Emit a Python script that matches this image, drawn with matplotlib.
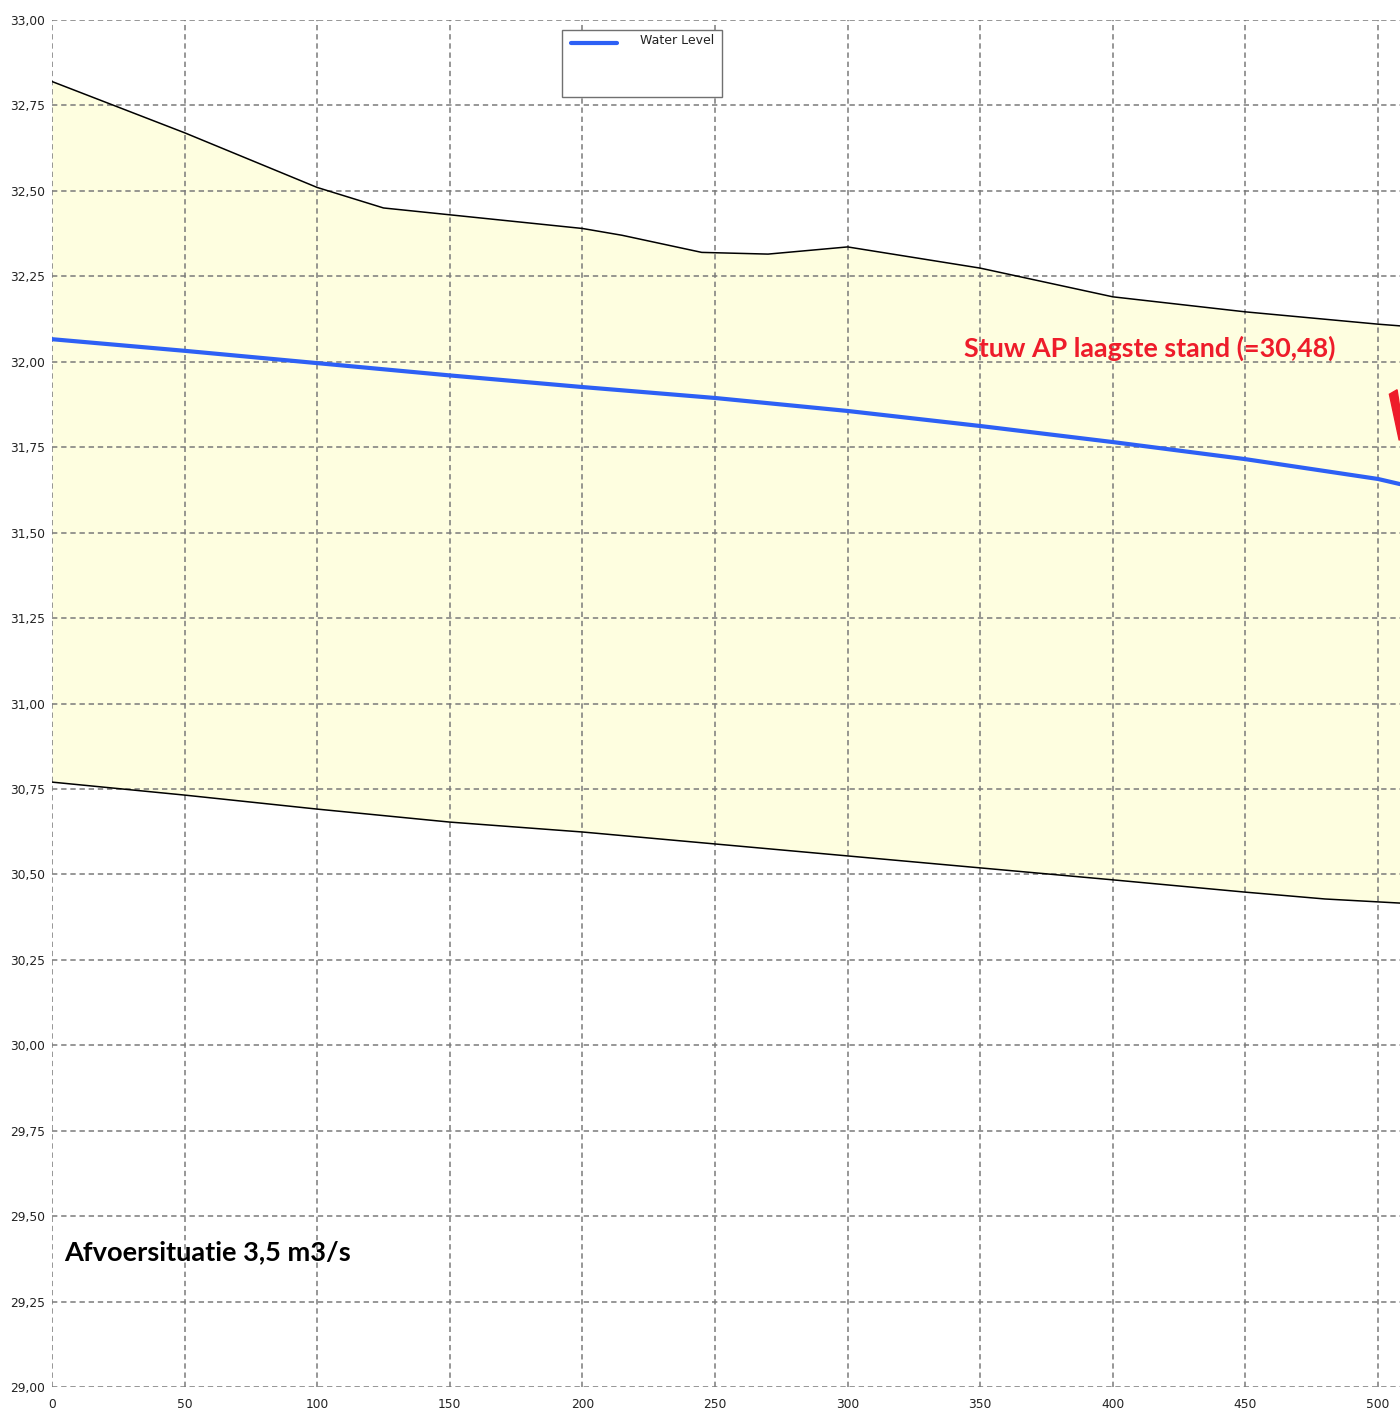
import numpy as np
import matplotlib.pyplot as plt
from matplotlib.patches import Rectangle, Polygon
from matplotlib.ticker import FuncFormatter, MultipleLocator

# afstand langs de watergang (m)
afstand = [0, 50, 100, 125, 150, 200, 215, 245, 270, 300, 350, 400, 450, 500, 508.3]
# bovenkant profiel (insteek)
boven = [32.82, 32.67, 32.51, 32.45, 32.43, 32.39, 32.37, 32.32, 32.315, 32.336,
         32.274, 32.19, 32.146, 32.11, 32.105]

afstand_wl = [0, 50, 100, 150, 200, 250, 300, 350, 400, 450, 500, 508.3]
waterstand = [32.066, 32.032, 31.996, 31.96, 31.926, 31.894, 31.856, 31.812,
              31.765, 31.715, 31.657, 31.642]

afstand_bodem = [0, 50, 100, 150, 200, 250, 300, 350, 400, 450, 480, 508.3]
bodem = [30.77, 30.732, 30.691, 30.653, 30.624, 30.589, 30.554, 30.519,
         30.484, 30.448, 30.428, 30.416]

# rode pijl (deels buiten beeld)
pijl_x = [504.3, 507.2, 509.5, 508.0]
pijl_y = [31.905, 31.918, 31.80, 31.77]

W, H = 1348, 1367  # plotgebied in pixels
def ax_xy(px, py):
  # pixel in de figuur -> assen-fractie
  return (px - 52) / W, 1 - (py - 20) / H

fig = plt.figure(figsize=(14, 14.1), dpi=100)
ax = fig.add_axes([52 / 1400, 23 / 1410, W / 1400, H / 1410])

# gevulde zone tussen bodem en insteek
x_fill = np.linspace(0, 508.3, 600)
y_top = np.interp(x_fill, afstand, boven)
y_bot = np.interp(x_fill, afstand_bodem, bodem)
ax.fill_between(x_fill, y_bot, y_top, color='#fefee0', zorder=1, lw=0)
ax.plot(afstand, boven, color='black', lw=1.1, zorder=3)
ax.plot(afstand_bodem, bodem, color='black', lw=1.1, zorder=3)
ax.plot(afstand_wl, waterstand, color='#2d60f5', lw=3.0, zorder=4,
        solid_capstyle='round')

ax.add_patch(Polygon(list(zip(pijl_x, pijl_y)), closed=True, color='#ee1c2a',
                     zorder=5))

ax.set_xlim(0, 508.3)
ax.set_ylim(29, 33)
ax.xaxis.set_major_locator(MultipleLocator(50))
ax.yaxis.set_major_locator(MultipleLocator(0.25))
ax.yaxis.set_major_formatter(FuncFormatter(lambda v, p: f"{v:.2f}".replace('.', ',')))
ax.tick_params(length=0, labelsize=8.8, colors='#222222')
ax.tick_params(axis='x', pad=8)
ax.tick_params(axis='y', pad=5)
for s in ax.spines.values():
  s.set_visible(False)
ax.grid(True, color='#7a7a7a', linestyle=(0, (3.5, 2.5)), lw=1.1, zorder=2)
ax.set_axisbelow(False)

# legenda (handmatig kader)
x0, y0 = ax_xy(562, 97)
x1, y1 = ax_xy(722, 30)
ax.add_patch(Rectangle((x0, y0), x1 - x0, y1 - y0, transform=ax.transAxes,
                       facecolor='white', edgecolor='#707070', lw=1.0, zorder=6))
lx0, ly = ax_xy(571, 43)
lx1, _ = ax_xy(617, 43)
ax.plot([lx0, lx1], [ly, ly], transform=ax.transAxes, color='#2d60f5', lw=3.0,
        zorder=7, solid_capstyle='round')
tx, ty = ax_xy(640, 41)
ax.text(tx, ty, 'Water Level', transform=ax.transAxes, fontsize=9,
        color='#222222', va='center', ha='left', zorder=7)

tx, ty = ax_xy(964, 348)
ax.text(tx, ty, 'Stuw AP laagste stand (=30,48)', transform=ax.transAxes,
        fontsize=19.4, fontweight='bold', family='Lato', color='#ee1c2a',
        va='center', ha='left', zorder=8)
tx, ty = ax_xy(64, 1252)
ax.text(tx, ty, 'Afvoersituatie 3,5 m3/s', transform=ax.transAxes,
        fontsize=19.6, fontweight='bold', family='Lato', color='black',
        va='center', ha='left', zorder=8)

plt.savefig('out.png', dpi=100)
